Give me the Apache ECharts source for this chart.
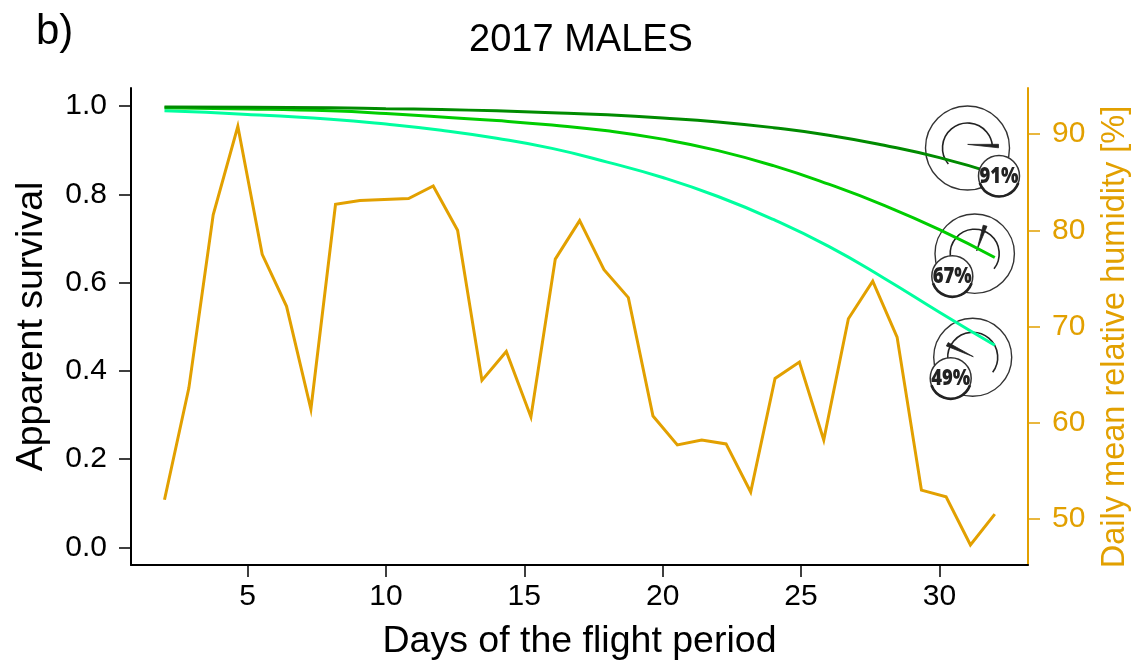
<!DOCTYPE html>
<html><head><meta charset="utf-8">
<style>html,body{margin:0;padding:0;background:#fff}#c{width:1138px;height:664px}</style>
<script src="https://cdn.jsdelivr.net/npm/echarts@6/dist/echarts.min.js"></script>
</head><body><div id="c"></div>
<script>
const humidityDays = [2.00,2.88,3.76,4.65,5.53,6.41,7.29,8.18,9.06,9.94,10.82,11.71,12.59,13.47,14.35,15.24,16.12,17.00,17.88,18.76,19.65,20.53,21.41,22.29,23.18,24.06,24.94,25.82,26.71,27.59,28.47,29.35,30.24,31.12,32.00];
const humidity = [52.0,63.6,81.6,90.8,77.5,72.1,61.4,82.7,83.1,83.2,83.3,84.6,80.0,64.4,67.4,60.6,77.0,81.0,75.9,73.0,60.7,57.7,58.2,57.8,52.8,64.6,66.3,58.2,70.8,74.7,68.9,53.0,52.3,47.3,50.5];
const survivalDays = [2,5,8,10,12,14,16,18,20,22,24,26,28,30,32];
const survival91 = [0.998,0.997,0.996,0.994,0.992,0.989,0.985,0.980,0.973,0.964,0.951,0.934,0.911,0.883,0.847];
const survival67 = [0.996,0.9935,0.989,0.983,0.975,0.967,0.957,0.944,0.925,0.899,0.865,0.823,0.775,0.720,0.657];
const survival49 = [0.989,0.981,0.970,0.959,0.945,0.927,0.904,0.873,0.838,0.795,0.743,0.682,0.610,0.533,0.458];
const xTicks = [5,10,15,20,25,30];
const yTicks = [0,0.2,0.4,0.6,0.8,1.0];
const rhTicks = [50,60,70,80,90];
const badgeLabels = ['91%','67%','49%'];

const ORANGE='#E2A000', FONT='"Liberation Sans", Arial, sans-serif', INK='#222';
const zip=(a,b)=>a.map((v,i)=>[v,b[i]]);
const rad=d=>d*Math.PI/180;

function gauge(g){
  const out=[];
  out.push({type:'circle',z:0,shape:{cx:g.cx,cy:g.cy,r:g.R},style:{fill:'none',stroke:'#333',lineWidth:1.4}});
  out.push({type:'arc',z:0,shape:{cx:g.cx,cy:g.cy,r:g.r,startAngle:rad(g.a0),endAngle:rad(g.a1),clockwise:true},style:{fill:'none',stroke:'#222',lineWidth:1.6}});
  out.push({type:'polygon',z:0,shape:{points:g.needle},style:{fill:INK,stroke:INK,lineWidth:0.8,lineJoin:'round'}});
  out.push({type:'circle',z:10,shape:{cx:g.bx,cy:g.by,r:20.5},style:{fill:'#fff',stroke:'#333',lineWidth:1.5}});
  out.push({type:'arc',z:10,shape:{cx:g.bx,cy:g.by,r:20.5,startAngle:rad(20),endAngle:rad(160),clockwise:true},style:{fill:'none',stroke:'#222',lineWidth:2.6}});
  out.push({type:'text',z:11,x:g.bx,y:g.by,scaleX:0.8,style:{text:g.label,x:0,y:0,align:'center',verticalAlign:'middle',font:'800 23px "Open Sans", sans-serif',fill:INK}});
  return out;
}
const gauges=[
 {cx:967.5,cy:148,R:42,r:25,a0:140,a1:355,needle:[[967.7,144.4],[998.5,144.3],[998.5,147.8]],bx:999,by:176,label:badgeLabels[0]},
 {cx:974.7,cy:253.7,R:39.7,r:24.5,a0:175,a1:398,needle:[[976.7,251],[983.2,225.2],[987,226.3]],bx:952.3,by:276.3,label:badgeLabels[1]},
 {cx:972.7,cy:357.3,R:39,r:25,a0:175,a1:397,needle:[[973.3,356.7],[948.2,342.6],[946.4,346]],bx:950.7,by:378.3,label:badgeLabels[2]}
];

const axisText={fontFamily:FONT,fontSize:30,color:'#000'};
const chart=echarts.init(document.getElementById('c'),null,{renderer:'canvas'});
chart.setOption({
  animation:false,
  backgroundColor:'#fff',
  title:[
    {text:'2017 MALES',left:576,top:17,textAlign:'center',textStyle:{fontFamily:FONT,fontSize:38,fontWeight:'normal',color:'#000'}},
    {text:'b)',left:31,top:6,textStyle:{fontFamily:FONT,fontSize:42,fontWeight:'normal',color:'#000'}}
  ],
  grid:{left:131,right:110,top:88,height:477,containLabel:false,outerBoundsMode:'none'},
  xAxis:{type:'value',min:0.79,max:33.2,
    name:'Days of the flight period',nameLocation:'middle',nameGap:58,
    nameTextStyle:{fontFamily:FONT,fontSize:37.5,color:'#000'},
    splitLine:{show:false},
    axisLine:{show:true,onZero:false,lineStyle:{color:'#000',width:2}},
    axisTick:{show:true,length:12,customValues:xTicks,lineStyle:{color:'#000',width:1.5}},
    axisLabel:{customValues:xTicks,margin:17,...axisText,formatter:v=>String(v)}},
  yAxis:[
   {type:'value',min:-0.0396,max:1.0408,position:'left',
    name:'Apparent survival',nameLocation:'middle',nameGap:80,nameRotate:90,
    nameTextStyle:{fontFamily:FONT,fontSize:37.5,color:'#000'},
    splitLine:{show:false},
    axisLine:{show:true,onZero:false,lineStyle:{color:'#000',width:2}},
    axisTick:{show:true,length:12,customValues:yTicks,lineStyle:{color:'#000',width:1.5}},
    axisLabel:{customValues:yTicks,margin:24,...axisText,formatter:v=>v.toFixed(1)}},
   {type:'value',min:45.22,max:94.78,position:'right',
    name:'Daily mean relative humidity [%]',nameLocation:'middle',nameGap:71,nameRotate:90,
    nameTextStyle:{fontFamily:FONT,fontSize:32.5,color:ORANGE,padding:[0,21,0,0]},
    splitLine:{show:false},
    axisLine:{show:true,onZero:false,lineStyle:{color:ORANGE,width:2}},
    axisTick:{show:true,length:12,customValues:rhTicks,lineStyle:{color:ORANGE,width:1.5}},
    axisLabel:{customValues:rhTicks,margin:24,...axisText,color:ORANGE,formatter:v=>String(v)}}
  ],
  series:[
   {type:'line',yAxisIndex:1,data:zip(humidityDays,humidity),showSymbol:false,lineStyle:{color:ORANGE,width:3,join:'miter'}},
   {type:'line',yAxisIndex:0,data:zip(survivalDays,survival49),smooth:0.5,showSymbol:false,lineStyle:{color:'#00FF9F',width:3}},
   {type:'line',yAxisIndex:0,data:zip(survivalDays,survival67),smooth:0.5,showSymbol:false,lineStyle:{color:'#00CD00',width:3}},
   {type:'line',yAxisIndex:0,data:zip(survivalDays,survival91),smooth:0.5,showSymbol:false,lineStyle:{color:'#008B00',width:3}}
  ],
  graphic:{elements:gauges.flatMap(gauge)}
});
</script></body></html>
